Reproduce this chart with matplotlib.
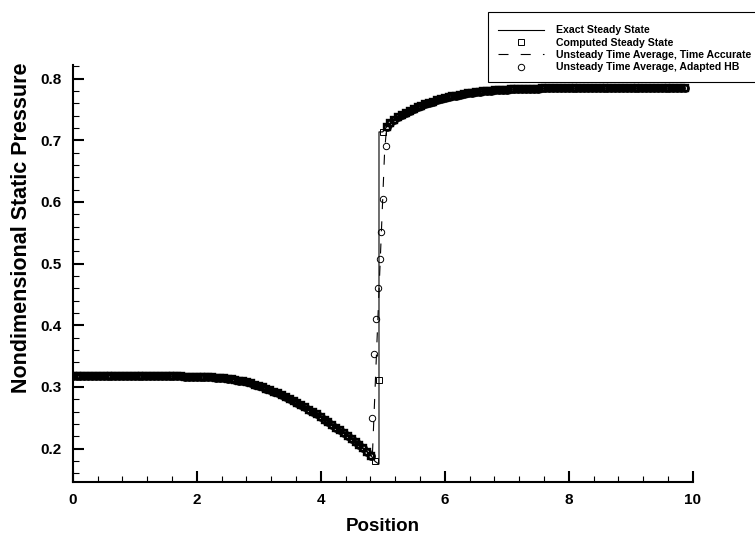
import numpy as np
import matplotlib
matplotlib.use('Agg')
import matplotlib.pyplot as plt
from matplotlib.ticker import MultipleLocator

plt.rcParams['font.family'] = ['Liberation Sans', 'DejaVu Sans']
plt.rcParams['font.weight'] = 'bold'

# computed steady state on the uniform grid (dx = 1/16)
p_computed = [
    0.3186, 0.3186, 0.3186, 0.3186, 0.3186, 0.3186, 0.3185, 0.3185, 0.3185, 0.3185,
    0.3185, 0.3184, 0.3184, 0.3183, 0.3183, 0.3182, 0.3182, 0.3181, 0.3180, 0.3180,
    0.3179, 0.3178, 0.3177, 0.3177, 0.3176, 0.3175, 0.3173, 0.3172, 0.3171, 0.3170,
    0.3168, 0.3167, 0.3166, 0.3163, 0.3161, 0.3158, 0.3154, 0.3150, 0.3146, 0.3140,
    0.3134, 0.3127, 0.3117, 0.3105, 0.3091, 0.3074, 0.3057, 0.3039, 0.3019, 0.2997,
    0.2975, 0.2951, 0.2926, 0.2899, 0.2871, 0.2842, 0.2811, 0.2779, 0.2745, 0.2710,
    0.2673, 0.2635, 0.2596, 0.2555, 0.2514, 0.2472, 0.2430, 0.2387, 0.2343, 0.2299,
    0.2255, 0.2210, 0.2163, 0.2113, 0.2061, 0.2006, 0.1949, 0.1888, 0.1795,
    0.3110, 0.7135,
    0.7215, 0.7282, 0.7335, 0.7380, 0.7415, 0.7446, 0.7474, 0.7505, 0.7532, 0.7558,
    0.7582, 0.7605, 0.7627, 0.7648, 0.7666, 0.7683, 0.7698, 0.7712, 0.7725, 0.7737,
    0.7748, 0.7758, 0.7767, 0.7776, 0.7784, 0.7791, 0.7797, 0.7803, 0.7808, 0.7813,
    0.7817, 0.7821, 0.7824, 0.7827, 0.7830, 0.7832, 0.7834, 0.7836, 0.7837, 0.7838,
    0.7839, 0.7840, 0.7840, 0.7841, 0.7841, 0.7841, 0.7842, 0.7842, 0.7842, 0.7842,
    0.7842, 0.7842, 0.7842, 0.7842, 0.7842, 0.7842, 0.7842, 0.7842, 0.7842, 0.7842,
    0.7843, 0.7843, 0.7843, 0.7843, 0.7843, 0.7843, 0.7843, 0.7843, 0.7843, 0.7843,
    0.7843, 0.7843, 0.7843, 0.7843, 0.7843, 0.7843, 0.7843, 0.7843,
]
x_grid = np.arange(len(p_computed)) * 0.0625

# exact shock location and jump
x_shock_exact = [4.94, 4.94]
p_shock_exact = [0.175, 0.7135]

# adapted HB points across the shock
x_hb_shock = [4.83, 4.86, 4.89, 4.93, 4.96, 4.98, 5.01, 5.05]
p_hb_shock = [0.249, 0.354, 0.411, 0.461, 0.507, 0.552, 0.604, 0.691]

# time accurate average across the shock
x_ta_shock = [4.83, 4.87, 4.91, 4.95, 4.99, 5.03]
p_ta_shock = [0.18, 0.28, 0.38, 0.48, 0.58, 0.68]

p_arr = np.array(p_computed)
x_exact = np.concatenate([x_grid[:79], x_shock_exact, x_grid[80:]])
p_exact = np.concatenate([p_arr[:79], p_shock_exact, p_arr[80:]])
x_ta = np.concatenate([x_grid[:78], x_ta_shock, x_grid[81:]])
p_ta = np.concatenate([p_arr[:78], p_ta_shock, p_arr[81:]])

# smooth (non-shock) parts shared by the computed and HB solutions
smooth = np.r_[0:78, 81:len(p_computed)]

fig = plt.figure(figsize=(7.55, 5.34), dpi=100)
ax = fig.add_axes([0.0963, 0.0974, 0.8212, 0.7809])

mk_sq = dict(marker='s', ls='none', ms=4.3, mfc='none', mec='k')
mk_ci = dict(marker='o', ls='none', ms=4.6, mfc='none', mec='k')

h1, = ax.plot(x_exact, p_exact, '-', color='k', lw=0.8)
# outlines on the smooth parts are dense enough to merge into a band
ax.plot(x_grid[smooth], p_arr[smooth], mew=1.7, **mk_sq)
h2, = ax.plot(x_grid[78:81], p_arr[78:81], mew=0.7, **mk_sq)
h3, = ax.plot(x_ta, p_ta, '--', color='k', lw=0.8, dashes=(9, 11))
ax.plot(x_grid[smooth], p_arr[smooth], mew=1.7, **mk_ci)
h4, = ax.plot(x_hb_shock, p_hb_shock, mew=0.7, **mk_ci)

ax.set_xlim(0, 10)
ax.set_ylim(0.146, 0.822)
ax.spines['top'].set_visible(False)
ax.spines['right'].set_visible(False)
for s in ['left', 'bottom']:
    ax.spines[s].set_linewidth(1.5)

ax.xaxis.set_major_locator(MultipleLocator(2))
ax.xaxis.set_minor_locator(MultipleLocator(0.4))
ax.yaxis.set_minor_locator(MultipleLocator(0.02))
ax.tick_params(which='major', direction='in', length=7.7, width=1.5, labelsize=11, pad=8)
ax.tick_params(which='minor', direction='in', length=4.5, width=0.8)
ax.set_yticks([0.2, 0.3, 0.4, 0.5, 0.6, 0.7, 0.8])
ax.set_yticklabels(['0.2', '0.3', '0.4', '0.5', '0.6', '0.7', '0.8'])

ax.set_xlabel('Position', fontsize=13.5, fontweight='bold', labelpad=8)
ax.set_ylabel('Nondimensional Static Pressure', fontsize=15.5, fontweight='bold')
ax.yaxis.set_label_coords(-0.066, 0.609)

leg = fig.legend([h1, h2, h3, h4],
                 ['Exact Steady State', 'Computed Steady State',
                  'Unsteady Time Average, Time Accurate',
                  'Unsteady Time Average, Adapted HB'],
                 loc='upper left', bbox_to_anchor=(488 / 755, 1 - 12 / 534),
                 prop={'size': 7.6, 'weight': 'bold'}, numpoints=1,
                 title=' ', title_fontsize=1,
                 handlelength=4.35, handletextpad=1.13, labelspacing=0.22,
                 borderpad=0.95, borderaxespad=0, fancybox=False,
                 framealpha=1, edgecolor='k')
leg.get_frame().set_linewidth(0.8)

fig.savefig('out.png', dpi=100)
